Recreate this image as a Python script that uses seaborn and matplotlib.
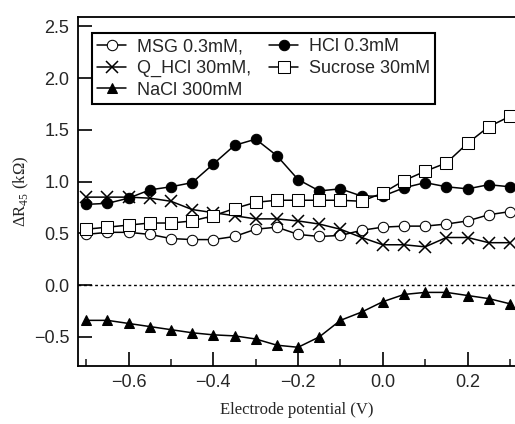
import numpy as np
import pandas as pd
import matplotlib
matplotlib.use("Agg")
import matplotlib.pyplot as plt
import seaborn as sns

# data
potential = [-0.70, -0.65, -0.60, -0.55, -0.50, -0.45, -0.40, -0.35, -0.30, -0.25, -0.20,
             -0.15, -0.10, -0.05, 0.00, 0.05, 0.10, 0.15, 0.20, 0.25, 0.30]
msg = [0.49, 0.51, 0.51, 0.49, 0.45, 0.44, 0.44, 0.47, 0.54, 0.56, 0.49,
       0.47, 0.48, 0.53, 0.56, 0.57, 0.57, 0.59, 0.62, 0.68, 0.71]
hcl = [0.78, 0.79, 0.84, 0.92, 0.95, 0.99, 1.17, 1.35, 1.41, 1.25, 1.02,
       0.91, 0.93, 0.86, 0.86, 0.94, 0.99, 0.95, 0.93, 0.97, 0.95]
q_hcl = [0.85, 0.85, 0.85, 0.84, 0.81, 0.73, 0.70, 0.67, 0.64, 0.64, 0.62,
         0.59, 0.54, 0.46, 0.39, 0.39, 0.37, 0.46, 0.46, 0.41, 0.41]
sucrose = [0.54, 0.56, 0.58, 0.60, 0.60, 0.62, 0.67, 0.74, 0.80, 0.82, 0.82,
           0.82, 0.82, 0.81, 0.89, 1.01, 1.10, 1.18, 1.37, 1.53, 1.63]
nacl = [-0.34, -0.34, -0.37, -0.40, -0.43, -0.46, -0.48, -0.49, -0.52, -0.58, -0.60,
        -0.50, -0.34, -0.26, -0.16, -0.09, -0.07, -0.07, -0.10, -0.13, -0.18]

series = [
    ("MSG 0.3mM,", msg, dict(marker="o", markerfacecolor="white", markersize=7.5)),
    ("Q_HCl 30mM,", q_hcl, dict(marker="x", markersize=8.5, markeredgewidth=1.1)),
    ("NaCl 300mM", nacl, dict(marker="^", markerfacecolor="black", markersize=7.5)),
    ("HCl 0.3mM", hcl, dict(marker="o", markerfacecolor="black", markersize=7.5)),
    ("Sucrose 30mM", sucrose, dict(marker="s", markerfacecolor="white", markersize=8)),
]

sns.set_style("ticks")
plt.rcParams["font.family"] = ["Liberation Sans", "DejaVu Sans"]
plt.rcParams["mathtext.fontset"] = "custom"
plt.rcParams["mathtext.rm"] = "Liberation Serif"

fig = plt.figure(figsize=(5.15, 4.24), dpi=100)
ax = fig.add_axes([0.151, 0.137, 0.849, 0.823])

for name, vals, style in series:
    df = pd.DataFrame({"x": potential, "y": vals})
    sns.lineplot(data=df, x="x", y="y", ax=ax, color="black", linewidth=1.1,
                 markeredgecolor="black", label=name, clip_on=False, **style)

ax.axhline(0, color="black", linestyle=(0, (2, 2)), linewidth=1.0, zorder=0)

ax.set_xlim(-0.72, 0.312)
ax.set_ylim(-0.78, 2.59)
ax.set_xticks([-0.6, -0.4, -0.2, 0.0, 0.2])
ax.set_xticks([-0.7, -0.5, -0.3, -0.1, 0.1, 0.3], minor=True)
ax.set_yticks([-0.5, 0.0, 0.5, 1.0, 1.5, 2.0, 2.5])
ax.set_xticklabels(["\u22120.6", "\u22120.4", "\u22120.2", "0.0", "0.2"])
ax.set_yticklabels(["\u22120.5", "0.0", "0.5", "1.0", "1.5", "2.0", "2.5"])
ax.tick_params(axis="both", which="major", direction="in", length=10, width=1.2,
               labelsize=13, color="black", pad=6)
ax.tick_params(axis="x", which="minor", direction="in", length=5, width=1.2)

for side in ["left", "bottom", "top"]:
    ax.spines[side].set_color("black")
    ax.spines[side].set_linewidth(1.3)
ax.spines["right"].set_visible(False)
ax.spines["top"].set_visible(True)

ax.set_xlabel("Electrode potential (V)", fontfamily="Liberation Serif", fontsize=12, labelpad=8)
ax.set_ylabel(r"ΔR$_{\rm 45}$ (kΩ)", fontfamily="Liberation Serif", fontsize=12, labelpad=2)

leg = ax.legend(loc="upper left", bbox_to_anchor=(0.032, 0.954), borderaxespad=0,
                ncol=2, fontsize=13, handlelength=1.6, handletextpad=0.6,
                columnspacing=1.0, labelspacing=0.25, borderpad=0.3,
                fancybox=False, framealpha=1)
leg.get_frame().set_edgecolor("black")
leg.get_frame().set_linewidth(1.5)

fig.savefig("out.png", dpi=100)
